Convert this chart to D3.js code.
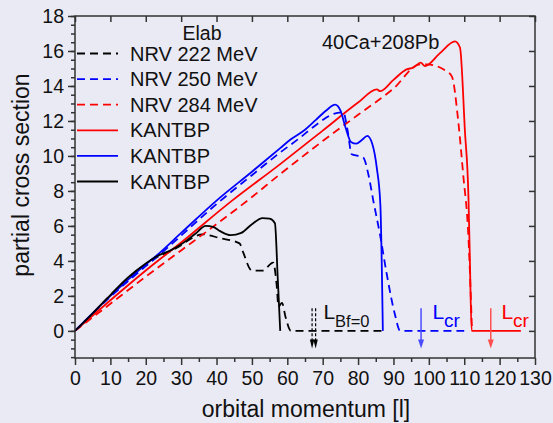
<!DOCTYPE html>
<html>
<head>
<meta charset="utf-8">
<script src="https://cdn.jsdelivr.net/npm/d3@7"></script>
<style>
body { margin: 0; background: #eaeaf5; }
text { font-family: "Liberation Sans", Arial, sans-serif; fill: #111; }
</style>
</head>
<body>
<script>
const w = 553;
const h = 423;

// data
const nrv222L = [0, 5, 10, 15, 20, 23, 27, 30, 33, 36, 41, 46.5, 47.5, 50, 53, 56, 57, 57.5, 58.5, 59.5, 61, 87];
const nrv222S = [0, 1.0, 2.05, 3.0, 3.75, 4.2, 4.55, 4.9, 5.3, 5.52, 5.3, 5.0, 4.5, 3.45, 3.45, 3.9, 2.6, 1.4, 1.6, 0.8, 0, 0];
const kan222L = [0, 5, 10, 15, 20, 23, 27, 30, 34, 37, 39, 41, 44, 47, 50, 53, 55, 56.5, 57.3, 58];
const kan222S = [0, 1.0, 2.05, 3.05, 3.85, 4.25, 4.6, 4.95, 5.55, 6.0, 5.95, 5.7, 5.47, 5.6, 6.1, 6.45, 6.42, 6.15, 3.0, 0];

const nrv250L = [0, 10, 20, 23, 30, 40, 50, 58, 63, 68.3, 73, 75.8, 77, 78.2, 80, 81.5, 82.9, 84.3, 86.2, 88.1, 90.4, 91.9, 110];
const nrv250S = [0, 1.95, 3.7, 4.2, 5.45, 7.25, 8.9, 10.2, 10.95, 11.8, 12.4, 12.5, 11.5, 10.1, 10.0, 9.9, 8.95, 7.45, 5.5, 3.25, 0.95, 0, 0];
const kan250L = [0, 10, 20, 23, 30, 40, 50, 58, 61, 65, 68, 71, 73.5, 75, 76.5, 78, 79.5, 81, 82.6, 84, 85.3, 86.3, 87];
const kan250S = [0, 2.0, 3.8, 4.3, 5.6, 7.45, 9.1, 10.45, 10.95, 11.5, 12.05, 12.6, 12.93, 12.6, 11.6, 10.8, 10.7, 10.9, 11.15, 10.7, 9.3, 7.2, 0];

const nrv284L = [0, 10, 20, 30, 40, 50, 57.9, 70, 80, 90, 97.5, 99.4, 104.1, 106.5, 108.3, 109.7, 111.2, 112.2];
const nrv284S = [0, 1.55, 3.1, 4.6, 6.1, 7.65, 8.95, 10.85, 12.35, 13.85, 15.24, 15.24, 14.95, 14.55, 12.0, 8.95, 5.3, 0];
const kan284L = [0, 10, 20, 30, 44.3, 57.9, 70, 80, 85.3, 86.2, 90, 93.7, 95.6, 97.7, 98.9, 103, 107.4, 108.8, 110.2, 111.2, 111.6, 112.1, 126];
const kan284S = [0, 1.75, 3.45, 5.05, 7.43, 9.52, 11.45, 13.05, 13.81, 13.7, 14.35, 14.95, 15.05, 15.33, 15.14, 15.85, 16.55, 16.2, 11.4, 7.6, 4.0, 0, 0];

const legendLabels = ["NRV 222 MeV", "NRV 250 MeV", "NRV 284 MeV", "KANTBP", "KANTBP", "KANTBP"];
const xTicks = [0, 10, 20, 30, 40, 50, 60, 70, 80, 90, 100, 110, 120, 130];
const yTicks = [0, 2, 4, 6, 8, 10, 12, 14, 16, 18];

const bfArrows = [67, 68];
const lcrBlue = 97.8;
const lcrRed = 117.5;

const margin = {left: 75, right: 18, top: 16, bottom: 65};

const xScale = d3.scaleLinear().domain([0, 130]).range([margin.left, w - margin.right]);
const yScale = d3.scaleLinear().domain([-1.55, 18]).range([h - margin.bottom, margin.top]);

const svg = d3.select("body").append("svg")
	.attr("width", w)
	.attr("height", h);

svg.append("rect").attr("width", w).attr("height", h).attr("fill", "#eaeaf5");

const series = [
	{L: nrv222L, S: nrv222S, color: "#000", dash: true},
	{L: nrv250L, S: nrv250S, color: "#0000ff", dash: true},
	{L: nrv284L, S: nrv284S, color: "#ff0000", dash: true},
	{L: kan284L, S: kan284S, color: "#ff0000", dash: false},
	{L: kan250L, S: kan250S, color: "#0000ff", dash: false},
	{L: kan222L, S: kan222S, color: "#000", dash: false}
];

const line = d3.line()
	.x(d => xScale(d[0]))
	.y(d => yScale(d[1]))
	.curve(d3.curveMonotoneX);

svg.selectAll("path.curve")
	.data(series)
	.enter()
	.append("path")
	.attr("class", "curve")
	.attr("d", s => line(s.L.map((l, i) => [l, s.S[i]])))
	.attr("fill", "none")
	.attr("stroke", s => s.color)
	.attr("stroke-width", 1.8)
	.attr("stroke-dasharray", s => s.dash ? "8,5" : null);

// arrows, head drawn as a small triangle
function arrow(l, color, dash, width, hw) {
	const x = xScale(l);
	const y1 = yScale(1.3);
	const y2 = yScale(-1.0);
	svg.append("line")
		.attr("x1", x).attr("x2", x)
		.attr("y1", y1).attr("y2", y2 - 6)
		.attr("stroke", color)
		.attr("stroke-width", width)
		.attr("stroke-dasharray", dash);
	svg.append("path")
		.attr("d", "M" + (x - hw) + "," + (y2 - 9) + "L" + (x + hw) + "," + (y2 - 9) + "L" + x + "," + y2 + "Z")
		.attr("fill", color);
}
bfArrows.forEach(l => arrow(l, "#000", "3,2", 1.2, 2.2));
arrow(lcrBlue, "#4b4bff", null, 1.5, 3);
arrow(lcrRed, "#ff5050", null, 1.5, 3);

// annotations
function lLabel(l, sub, color, subSize) {
	const t = svg.append("text")
		.attr("x", xScale(l))
		.attr("y", yScale(0.68))
		.attr("font-size", 21)
		.style("fill", color);
	t.append("tspan").text("L");
	t.append("tspan").attr("font-size", subSize).attr("dy", 8).text(sub);
}
lLabel(70.2, "Bf=0", "#111", 16.5);
lLabel(101, "cr", "#0000ff", 19);
lLabel(120.5, "cr", "#ff0000", 19);

// axes
const axisColor = "#333";
const yMinor = d3.range(-1.5, 18.01, 0.5);
const xMinor = d3.range(5, 130, 10);

const yAxis = svg.append("g")
	.attr("transform", "translate(" + margin.left + ",0)")
	.call(d3.axisLeft(yScale).tickValues(yTicks).tickSize(7).tickSizeOuter(0).tickPadding(4));
const yAxisMinor = svg.append("g")
	.attr("transform", "translate(" + margin.left + ",0)")
	.call(d3.axisLeft(yScale).tickValues(yMinor).tickSize(4).tickSizeOuter(0).tickFormat(""));
const xAxis = svg.append("g")
	.attr("transform", "translate(0," + (h - margin.bottom) + ")")
	.call(d3.axisBottom(xScale).tickValues(xTicks).tickSize(7).tickSizeOuter(0).tickPadding(6));
const xAxisMinor = svg.append("g")
	.attr("transform", "translate(0," + (h - margin.bottom) + ")")
	.call(d3.axisBottom(xScale).tickValues(xMinor).tickSize(4).tickSizeOuter(0).tickFormat(""));
const topAxis = svg.append("g")
	.attr("transform", "translate(0," + margin.top + ")")
	.call(d3.axisTop(xScale).tickValues(xTicks).tickSize(-6).tickSizeOuter(0).tickFormat(""));
const rightAxis = svg.append("g")
	.attr("transform", "translate(" + (w - margin.right) + ",0)")
	.call(d3.axisRight(yScale).tickValues(yTicks).tickSize(-6).tickSizeOuter(0).tickFormat(""));

[yAxis, yAxisMinor, xAxis, xAxisMinor, topAxis, rightAxis].forEach(g => {
	g.select(".domain").remove();
	g.selectAll("line").attr("stroke", axisColor).attr("stroke-width", 1.5);
	g.selectAll("text").attr("font-size", 19.5).style("fill", "#111")
		.attr("font-family", "'Liberation Sans', Arial, sans-serif");
});

svg.append("rect")
	.attr("x", margin.left).attr("y", margin.top)
	.attr("width", w - margin.left - margin.right)
	.attr("height", h - margin.top - margin.bottom)
	.attr("fill", "none")
	.attr("stroke", axisColor)
	.attr("stroke-width", 1.5);

// axis titles
svg.append("text")
	.attr("x", (margin.left + w - margin.right) / 2 + 1)
	.attr("y", 417)
	.attr("text-anchor", "middle")
	.attr("font-size", 23)
	.text("orbital momentum [l]");

svg.append("text")
	.attr("transform", "translate(29," + ((margin.top + h - margin.bottom) / 2 - 12) + ") rotate(-90)")
	.attr("text-anchor", "middle")
	.attr("font-size", 23)
	.text("partial cross section");

// legend
svg.append("text").attr("x", 202).attr("y", 40).attr("text-anchor", "middle")
	.attr("font-size", 19.5).text("Elab");

const legend = svg.selectAll("g.leg")
	.data(legendLabels)
	.enter()
	.append("g")
	.attr("class", "leg")
	.attr("transform", (d, i) => "translate(0," + (53.5 + i * 25.6) + ")");
legend.append("line")
	.attr("x1", 77).attr("x2", 118)
	.attr("stroke", (d, i) => series[i].color)
	.attr("stroke-width", 1.8)
	.attr("stroke-dasharray", (d, i) => series[i].dash ? "8,5" : null);
legend.append("text")
	.attr("x", 130).attr("y", 7)
	.attr("font-size", 20)
	.text(d => d);

svg.append("text").attr("x", 322).attr("y", 49)
	.attr("font-size", 20).text("40Ca+208Pb");
</script>
</body>
</html>
